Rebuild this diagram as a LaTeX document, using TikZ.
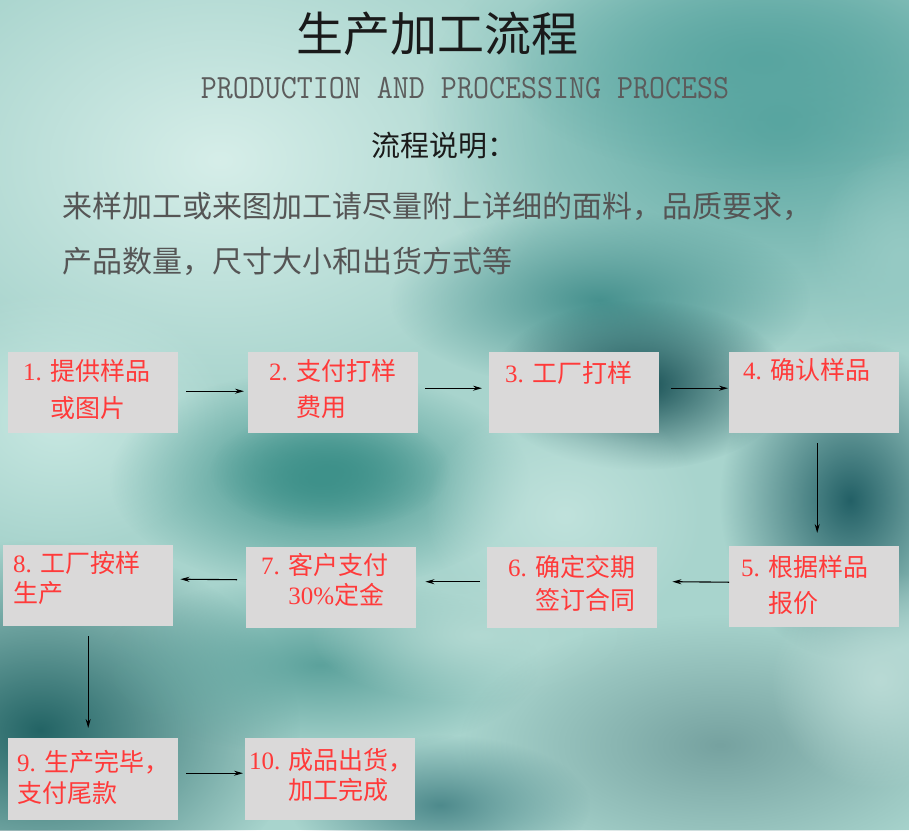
\documentclass[tikz,border=0pt]{standalone}
\usepackage{fontspec}
\setmainfont{Noto Sans CJK SC}
\newfontfamily\lat{Liberation Serif}
\usetikzlibrary{arrows.meta,calc,fadings}
\definecolor{bgbase}{RGB}{168,212,205}
\definecolor{boxgrey}{RGB}{218,217,217}
\definecolor{redtxt}{RGB}{255,58,58}
\definecolor{titlecol}{RGB}{26,26,26}
\definecolor{subcol}{RGB}{92,92,92}
\definecolor{paracol}{RGB}{85,85,85}
\definecolor{bga}{RGB}{214,238,233}
\definecolor{bgb}{RGB}{200,232,226}
\definecolor{bgc}{RGB}{88,165,160}
\definecolor{bgd}{RGB}{70,145,142}
\definecolor{bge}{RGB}{22,78,83}
\definecolor{bgf}{RGB}{35,96,102}
\definecolor{bgg}{RGB}{62,145,138}
\definecolor{bgh}{RGB}{192,226,220}
\definecolor{bgi}{RGB}{35,100,101}
\definecolor{bgj}{RGB}{92,162,156}
\definecolor{bgk}{RGB}{178,217,210}
\definecolor{bgl}{RGB}{118,162,160}
\definecolor{bgm}{RGB}{185,218,213}
\definecolor{bgn}{RGB}{78,138,140}
\definecolor{bgo}{RGB}{150,202,196}
\tikzfading[name=blob, inner color=transparent!0, outer color=transparent!100]
\tikzset{
  flowbox/.style={fill=boxgrey, draw=none, minimum width=170pt, minimum height=81pt, inner sep=0pt, anchor=north west},
  flowtxt/.style={text=redtxt, font=\fontsize{25}{30}\selectfont, inner sep=0pt, anchor=base west},
  arr/.style={draw=black, line width=1.1pt, -{Stealth[length=9pt,width=5pt]}},
  softblob/.style={fill=#1, path fading=blob}
}
\begin{document}
\begin{tikzpicture}[x=1pt,y=-1pt]
\useasboundingbox (0,0) rectangle (909,830);
% background
\fill[bgbase] (0,0) rectangle (909,830);
\begin{scope}
\clip (0,0) rectangle (909,830);
\fill[softblob=bga] (220,160) ellipse (340 and 240);
\fill[softblob=bgb] (60,420) ellipse (170 and 130);
\fill[softblob=bgc] (780,120) ellipse (360 and 240);
\fill[softblob=bgc] (760,60) ellipse (260 and 120);
\fill[softblob=bgo] (900,260) ellipse (90 and 110);
\fill[softblob=bgd] (600,300) ellipse (210 and 90);
\fill[softblob=bge] (640,385) ellipse (150 and 85);
\fill[softblob=bgf] (850,500) ellipse (130 and 160);
\fill[softblob=bgg] (320,480) ellipse (210 and 110);
\fill[softblob=bgg] (330,470) ellipse (120 and 60);
\fill[softblob=bgh] (565,515) ellipse (140 and 120);
\fill[softblob=bgi] (40,730) ellipse (260 and 190);
\fill[softblob=bgj] (320,665) ellipse (220 and 90);
\fill[softblob=bgk] (480,635) ellipse (170 and 70);
\fill[softblob=bgl] (720,745) ellipse (260 and 130);
\fill[softblob=bgm] (880,680) ellipse (110 and 110);
\fill[softblob=bgn] (440,805) ellipse (150 and 70);
\end{scope}
% titles
\node[text=titlecol, font=\fontsize{47}{50}\selectfont, inner sep=0pt, anchor=base] (title) at (437,51) {生产加工流程};
\node[text=subcol, inner sep=0pt, anchor=base] (subtitle) at (465,98) {\scalebox{0.914}[1]{\ttfamily\fontsize{34}{36}\selectfont PRODUCTION AND PROCESSING PROCESS}};
\node[text=titlecol, font=\fontsize{29}{32}\selectfont, inner sep=0pt, anchor=base west] (desc) at (371,156) {流程说明：};
\node[text=paracol, font=\fontsize{30}{32}\selectfont, inner sep=0pt, anchor=base west] (para1) at (62,217) {来样加工或来图加工请尽量附上详细的面料，品质要求，};
\node[text=paracol, font=\fontsize{30}{32}\selectfont, inner sep=0pt, anchor=base west] (para2) at (62,272) {产品数量，尺寸大小和出货方式等};
% boxes
\node[flowbox] (b1) at (8,352) {};
\node[flowbox] (b2) at (248,352) {};
\node[flowbox] (b3) at (489,352) {};
\node[flowbox] (b4) at (729,352) {};
\node[flowbox] (b8) at (3,545) {};
\node[flowbox] (b7) at (246,547) {};
\node[flowbox] (b6) at (487,547) {};
\node[flowbox] (b5) at (729,546) {};
\node[flowbox, minimum height=82pt] (b9) at (8,738) {};
\node[flowbox, minimum height=82pt] (b10) at (245,738) {};
% box texts
\node[flowtxt] (t1a) at (23,380.5) {{\lat 1. }提供样品};
\node[flowtxt] (t1b) at (23,417.5) {\hphantom{\lat 1. }或图片};
\node[flowtxt] (t2a) at (269,380.5) {{\lat 2. }支付打样};
\node[flowtxt] (t2b) at (269,416.5) {\hphantom{\lat 2. }费用};
\node[flowtxt] (t3a) at (505,382.5) {{\lat 3. }工厂打样};
\node[flowtxt] (t4a) at (743,379.5) {{\lat 4. }确认样品};
\node[flowtxt] (t5a) at (741,576.5) {{\lat 5. }根据样品};
\node[flowtxt] (t5b) at (741,612.5) {\hphantom{\lat 5. }报价};
\node[flowtxt] (t6a) at (508,576.5) {{\lat 6. }确定交期};
\node[flowtxt] (t6b) at (508,609.5) {\hphantom{\lat 6. }签订合同};
\node[flowtxt] (t7a) at (261,574.5) {{\lat 7. }客户支付};
\node[flowtxt] (t7b) at (261,604.5) {\hphantom{\lat 7. }{\lat 30\%}定金};
\node[flowtxt] (t8a) at (13,572.5) {{\lat 8. }工厂按样};
\node[flowtxt] (t8b) at (13,602.5) {生产};
\node[flowtxt] (t9a) at (17,771.5) {{\lat 9. }生产完毕，};
\node[flowtxt] (t9b) at (17,802.5) {支付尾款};
\node[flowtxt] (t10a) at (249,769.5) {{\lat 10. }成品出货，};
\node[flowtxt] (t10b) at (249,799.5) {\hphantom{\lat 10. }加工完成};
% arrows
\draw[arr] ($(b1.east)+(8,-1.5)$) -- ($(b2.west)+(-4,-1.5)$);
\draw[arr] ($(b2.east)+(7,-4.5)$) -- ($(b3.west)+(-7,-4.5)$);
\draw[arr] ($(b3.east)+(12,-4.5)$) -- ($(b4.west)+(-1,-4.5)$);
\draw[arr] ($(b4.south)+(3,10)$) -- ($(b5.north)+(3,-13)$);
\draw[arr] ($(b5.west)+(0,-4.5)$) -- ($(b6.east)+(15,-6)$);
\draw[arr] ($(b6.west)+(-7,-6)$) -- ($(b7.east)+(9,-6)$);
\draw[arr] ($(b7.west)+(-9,-8)$) -- ($(b8.east)+(7,-6.5)$);
\draw[arr] ($(b8.south)+(0,10)$) -- ($(b9.north)+(-5,-10)$);
\draw[arr] ($(b9.east)+(8,-6)$) -- ($(b10.west)+(-2,-6)$);
\end{tikzpicture}
\end{document}
